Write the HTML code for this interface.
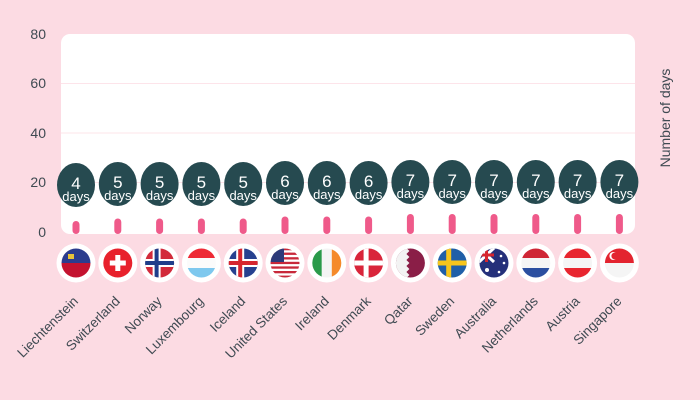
<!DOCTYPE html>
<html><head><meta charset="utf-8"><style>
html,body{margin:0;padding:0;background:#fcdbe3;}
svg{display:block;font-family:"Liberation Sans",sans-serif;}
</style></head><body>
<svg width="700" height="400" viewBox="0 0 700 400" xmlns="http://www.w3.org/2000/svg">
<defs><clipPath id="c"><circle cx="15" cy="15" r="14.5"/></clipPath></defs>
<rect width="700" height="400" fill="#fcdbe3"/>
<rect x="61" y="34" width="574" height="200" rx="9" fill="#fff"/>
<g stroke="#fde4ea" stroke-width="1">
<line x1="61" x2="635" y1="182.5" y2="182.5"/><line x1="61" x2="635" y1="133" y2="133"/><line x1="61" x2="635" y1="83.5" y2="83.5"/>
</g>
<g fill="#3f4a52" font-size="14" text-anchor="end">
<text x="46" y="237">0</text><text x="46" y="187">20</text><text x="46" y="138">40</text><text x="46" y="88">60</text><text x="46" y="39">80</text>
</g>
<text transform="translate(670,118) rotate(-90)" text-anchor="middle" font-size="14" fill="#3f4a52">Number of days</text>

<g fill="#ef5a8a">
<rect x="72.5" y="221" width="7" height="13" rx="3.5"/>
<rect x="114.3" y="218.5" width="7" height="15.5" rx="3.5"/>
<rect x="156.1" y="218.5" width="7" height="15.5" rx="3.5"/>
<rect x="197.9" y="218.5" width="7" height="15.5" rx="3.5"/>
<rect x="239.7" y="218.5" width="7" height="15.5" rx="3.5"/>
<rect x="281.5" y="216.5" width="7" height="17.5" rx="3.5"/>
<rect x="323.3" y="216.5" width="7" height="17.5" rx="3.5"/>
<rect x="365.1" y="216.5" width="7" height="17.5" rx="3.5"/>
<rect x="406.9" y="214" width="7" height="20" rx="3.5"/>
<rect x="448.7" y="214" width="7" height="20" rx="3.5"/>
<rect x="490.5" y="214" width="7" height="20" rx="3.5"/>
<rect x="532.3" y="214" width="7" height="20" rx="3.5"/>
<rect x="574.1" y="214" width="7" height="20" rx="3.5"/>
<rect x="615.9" y="214" width="7" height="20" rx="3.5"/>
</g>
<g fill="#264a50">
<ellipse cx="76" cy="185" rx="19" ry="22"/><ellipse cx="117.8" cy="184" rx="19" ry="22"/><ellipse cx="159.6" cy="184" rx="19" ry="22"/><ellipse cx="201.4" cy="184" rx="19" ry="22"/><ellipse cx="243.2" cy="184" rx="19" ry="22"/><ellipse cx="285" cy="183" rx="19" ry="22"/><ellipse cx="326.8" cy="183" rx="19" ry="22"/><ellipse cx="368.6" cy="183" rx="19" ry="22"/><ellipse cx="410.4" cy="182" rx="19" ry="22"/><ellipse cx="452.2" cy="182" rx="19" ry="22"/><ellipse cx="494" cy="182" rx="19" ry="22"/><ellipse cx="535.8" cy="182" rx="19" ry="22"/><ellipse cx="577.6" cy="182" rx="19" ry="22"/><ellipse cx="619.4" cy="182" rx="19" ry="22"/>
</g>
<g fill="#fff" text-anchor="middle" font-size="17">
<text x="76" y="189">4</text><text x="117.8" y="188">5</text><text x="159.6" y="188">5</text><text x="201.4" y="188">5</text><text x="243.2" y="188">5</text><text x="285" y="187">6</text><text x="326.8" y="187">6</text><text x="368.6" y="187">6</text><text x="410.4" y="186">7</text><text x="452.2" y="186">7</text><text x="494" y="186">7</text><text x="535.8" y="186">7</text><text x="577.6" y="186">7</text><text x="619.4" y="186">7</text>
</g>
<g fill="#fff" text-anchor="middle" font-size="13">
<text x="76" y="201">days</text><text x="117.8" y="200">days</text><text x="159.6" y="200">days</text><text x="201.4" y="200">days</text><text x="243.2" y="200">days</text><text x="285" y="199">days</text><text x="326.8" y="199">days</text><text x="368.6" y="199">days</text><text x="410.4" y="198">days</text><text x="452.2" y="198">days</text><text x="494" y="198">days</text><text x="535.8" y="198">days</text><text x="577.6" y="198">days</text><text x="619.4" y="198">days</text>
</g>

<g fill="#fff">
<circle cx="76" cy="263" r="19.5"/><circle cx="117.8" cy="263" r="19.5"/><circle cx="159.6" cy="263" r="19.5"/><circle cx="201.4" cy="263" r="19.5"/><circle cx="243.2" cy="263" r="19.5"/><circle cx="285" cy="263" r="19.5"/><circle cx="326.8" cy="263" r="19.5"/><circle cx="368.6" cy="263" r="19.5"/><circle cx="410.4" cy="263" r="19.5"/><circle cx="452.2" cy="263" r="19.5"/><circle cx="494" cy="263" r="19.5"/><circle cx="535.8" cy="263" r="19.5"/><circle cx="577.6" cy="263" r="19.5"/><circle cx="619.4" cy="263" r="19.5"/>
</g>
<g transform="translate(61,248)" clip-path="url(#c)"><rect width="30" height="15" fill="#2b3c8e"/><rect y="15" width="30" height="15" fill="#c4122f"/><rect x="7" y="6" width="6" height="5" fill="#e8c33a"/></g>
<g transform="translate(102.8,248)" clip-path="url(#c)"><rect width="30" height="30" fill="#e8212c"/><rect x="12.5" y="7" width="5" height="16" fill="#fff"/><rect x="7" y="12.5" width="16" height="5" fill="#fff"/></g>
<g transform="translate(144.6,248)" clip-path="url(#c)"><rect width="30" height="30" fill="#d22a3a"/><rect x="8" width="8" height="30" fill="#fff"/><rect y="11" width="30" height="8" fill="#fff"/><rect x="10" width="4" height="30" fill="#1f3d8a"/><rect y="13" width="30" height="4" fill="#1f3d8a"/></g>
<g transform="translate(186.4,248)" clip-path="url(#c)"><rect width="30" height="10" fill="#ee2a35"/><rect y="10" width="30" height="10" fill="#fbfbfb"/><rect y="20" width="30" height="10" fill="#7ec8ee"/></g>
<g transform="translate(228.2,248)" clip-path="url(#c)"><rect width="30" height="30" fill="#27418f"/><rect x="8" width="8" height="30" fill="#fff"/><rect y="11" width="30" height="8" fill="#fff"/><rect x="10" width="4" height="30" fill="#d6262f"/><rect y="13" width="30" height="4" fill="#d6262f"/></g>
<g transform="translate(270,248)" clip-path="url(#c)"><rect width="30" height="30" fill="#fff"/><g fill="#c8283a"><rect y="0" width="30" height="2.3"/><rect y="4.6" width="30" height="2.3"/><rect y="9.2" width="30" height="2.3"/><rect y="13.8" width="30" height="2.3"/><rect y="18.4" width="30" height="2.3"/><rect y="23" width="30" height="2.3"/><rect y="27.6" width="30" height="2.4"/></g><rect width="14" height="14" fill="#2d3b7a"/></g>
<g transform="translate(311.8,248)" clip-path="url(#c)"><rect width="10" height="30" fill="#2a9a4a"/><rect x="10" width="10" height="30" fill="#f4f4f4"/><rect x="20" width="10" height="30" fill="#f58a2a"/></g>
<g transform="translate(353.6,248)" clip-path="url(#c)"><rect width="30" height="30" fill="#d9253a"/><rect x="10" width="5" height="30" fill="#fff"/><rect y="12.5" width="30" height="5" fill="#fff"/></g>
<g transform="translate(395.4,248)" clip-path="url(#c)"><rect width="30" height="30" fill="#8a1e47"/><polygon points="0,0 11,0 14,3 11,6 14,9 11,12 14,15 11,18 14,21 11,24 14,27 11,30 0,30" fill="#f3f3f3"/></g>
<g transform="translate(437.2,248)" clip-path="url(#c)"><rect width="30" height="30" fill="#1f5fa8"/><rect x="9" width="5" height="30" fill="#f6c51c"/><rect y="12.5" width="30" height="5" fill="#f6c51c"/></g>
<g transform="translate(479,248)" clip-path="url(#c)"><rect width="30" height="30" fill="#25307a"/><line x1="0" y1="0" x2="15" y2="14" stroke="#fff" stroke-width="3"/><line x1="15" y1="0" x2="0" y2="14" stroke="#fff" stroke-width="3"/><rect x="6" width="3" height="14" fill="#d6262f"/><rect y="5.5" width="15" height="3" fill="#d6262f"/><g fill="#fff"><circle cx="8" cy="22" r="2"/><circle cx="22" cy="8" r="1.3"/><circle cx="25" cy="15" r="1.3"/><circle cx="20" cy="24" r="1.3"/></g></g>
<g transform="translate(520.8,248)" clip-path="url(#c)"><rect width="30" height="10" fill="#cf2635"/><rect y="10" width="30" height="10" fill="#f5f5f5"/><rect y="20" width="30" height="10" fill="#2b4fa0"/></g>
<g transform="translate(562.6,248)" clip-path="url(#c)"><rect width="30" height="10" fill="#e8262f"/><rect y="10" width="30" height="10" fill="#f5f5f5"/><rect y="20" width="30" height="10" fill="#e8262f"/></g>
<g transform="translate(604.4,248)" clip-path="url(#c)"><rect width="30" height="15" fill="#e3242f"/><rect y="15" width="30" height="15" fill="#f5f5f5"/><circle cx="9" cy="8" r="4" fill="#fff"/><circle cx="10.5" cy="8" r="3.5" fill="#e3242f"/></g>

<g fill="#3f4a52" font-size="13.5" text-anchor="end">
<text transform="translate(79,302) rotate(-45)">Liechtenstein</text>
<text transform="translate(120.8,302) rotate(-45)">Switzerland</text>
<text transform="translate(162.6,302) rotate(-45)">Norway</text>
<text transform="translate(204.4,302) rotate(-45)">Luxembourg</text>
<text transform="translate(246.2,302) rotate(-45)">Iceland</text>
<text transform="translate(288,302) rotate(-45)">United States</text>
<text transform="translate(329.8,302) rotate(-45)">Ireland</text>
<text transform="translate(371.6,302) rotate(-45)">Denmark</text>
<text transform="translate(413.4,302) rotate(-45)">Qatar</text>
<text transform="translate(455.2,302) rotate(-45)">Sweden</text>
<text transform="translate(497,302) rotate(-45)">Australia</text>
<text transform="translate(538.8,302) rotate(-45)">Netherlands</text>
<text transform="translate(580.6,302) rotate(-45)">Austria</text>
<text transform="translate(622.4,302) rotate(-45)">Singapore</text>
</g>
</svg>
</body></html>
